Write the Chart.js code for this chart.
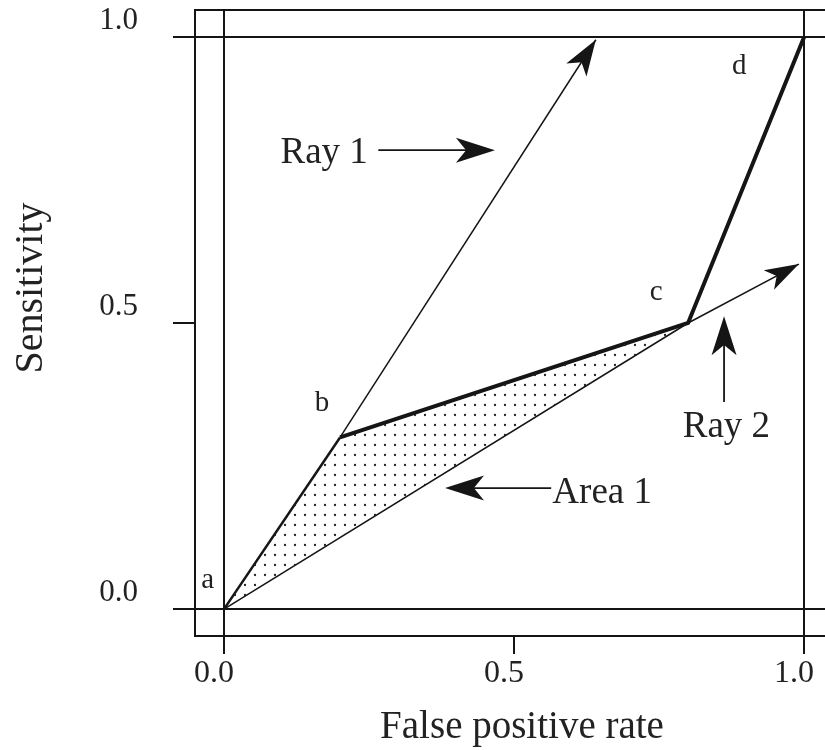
<!DOCTYPE html>
<html><head><meta charset="utf-8">
<script src="https://cdn.jsdelivr.net/npm/chart.js@4.4.0/dist/chart.umd.min.js"></script>
<style>html,body{margin:0;padding:0;background:#fff;overflow:hidden}</style>
</head><body>
<canvas id="c" width="825" height="750"></canvas>
<script>
// ---- data ----
const rocFpr = [0.0, 0.2, 0.8, 1.0];
const rocSens = [0.0, 0.3, 0.5, 1.0];
const pointNames = ['a', 'b', 'c', 'd'];
const ray1Tip = [0.641, 0.995];
const ray2Tip = [0.991, 0.603];
const xTickValues = [0, 0.5, 1];
const yTickValues = [0, 0.5, 1];
const tickLabels = ['0.0', '0.5', '1.0'];
const xTitle = 'False positive rate';
const yTitle = 'Sensitivity';
const calloutTexts = ['Ray 1', 'Area 1', 'Ray 2'];

// ---- placement of annotations (data coordinates) ----
const pointLabelPos = [[-0.028, 0.037], [0.169, 0.346], [0.745, 0.54], [0.888, 0.935]];
const calloutPos = [
  {tx: 0.248, ty: 0.78, align: 'right', from: [0.266, 0.802], to: [0.467, 0.802]},
  {tx: 0.566, ty: 0.185, align: 'left', from: [0.564, 0.2115], to: [0.381, 0.2115]},
  {tx: 0.866, ty: 0.30, align: 'center', from: [0.862, 0.362], to: [0.862, 0.512]}
];

const ink = '#151515';
const serif = "'Liberation Serif', 'Times New Roman', serif";
const canvas = document.getElementById('c');
const mainCtx = canvas.getContext('2d');

function dotPattern() {
  const c = document.createElement('canvas');
  c.width = 10; c.height = 10;
  const g = c.getContext('2d');
  g.fillStyle = '#222';
  g.beginPath(); g.arc(5, 5, 1.15, 0, Math.PI * 2); g.fill();
  return mainCtx.createPattern(c, 'repeat');
}

const pts = rocFpr.map((x, i) => ({x: x, y: rocSens[i]}));

function arrowHead(ctx, x1, y1, x2, y2, len, half) {
  const dx = x2 - x1, dy = y2 - y1, d = Math.hypot(dx, dy);
  const ux = dx / d, uy = dy / d, nx = -uy, ny = ux;
  const bx = x2 - ux * len, by = y2 - uy * len;
  const mx = x2 - ux * len * 0.74, my = y2 - uy * len * 0.74;
  ctx.beginPath();
  ctx.moveTo(x2, y2);
  ctx.lineTo(bx + nx * half, by + ny * half);
  ctx.lineTo(mx, my);
  ctx.lineTo(bx - nx * half, by - ny * half);
  ctx.closePath();
  ctx.fill();
}

const annotPlugin = {
  id: 'annot',
  afterDatasetsDraw(chart) {
    const ctx = chart.ctx;
    const xs = chart.scales.x, ys = chart.scales.y;
    const px = v => xs.getPixelForValue(v), py = v => ys.getPixelForValue(v);
    ctx.save();
    ctx.fillStyle = ink; ctx.strokeStyle = ink;
    // arrowheads at ray ends
    arrowHead(ctx, px(pts[1].x), py(pts[1].y), px(ray1Tip[0]), py(ray1Tip[1]), 36, 12);
    arrowHead(ctx, px(pts[2].x), py(pts[2].y), px(ray2Tip[0]), py(ray2Tip[1]), 34, 11);
    // callout arrows and texts
    ctx.lineWidth = 1.8;
    calloutPos.forEach((c, i) => {
      const x1 = px(c.from[0]), y1 = py(c.from[1]), x2 = px(c.to[0]), y2 = py(c.to[1]);
      const d = Math.hypot(x2 - x1, y2 - y1);
      const ex = x2 - (x2 - x1) / d * 25, ey = y2 - (y2 - y1) / d * 25;
      ctx.beginPath(); ctx.moveTo(x1, y1); ctx.lineTo(ex, ey); ctx.stroke();
      arrowHead(ctx, x1, y1, x2, y2, 39, 12.5);
      ctx.font = '37px ' + serif;
      ctx.textAlign = c.align; ctx.textBaseline = 'alphabetic';
      ctx.fillStyle = '#222';
      ctx.fillText(calloutTexts[i], px(c.tx), py(c.ty));
      ctx.fillStyle = ink;
    });
    // point labels
    ctx.font = '29px ' + serif;
    ctx.textAlign = 'center'; ctx.fillStyle = '#222';
    pointNames.forEach((n, i) => {
      ctx.fillText(n, px(pointLabelPos[i][0]), py(pointLabelPos[i][1]));
    });
    ctx.restore();
  },
  afterDraw(chart) {
    const ctx = chart.ctx;
    const area = chart.chartArea;
    ctx.save();
    ctx.fillStyle = '#222';
    // x axis title
    ctx.font = '39px ' + serif;
    ctx.textAlign = 'center'; ctx.textBaseline = 'alphabetic';
    ctx.fillText(xTitle, (area.left + area.right) / 2 + 12, chart.scales.x.bottom - 12);
    // y axis title
    ctx.font = '40px ' + serif;
    ctx.translate(chart.scales.y.left + 42, (area.top + area.bottom) / 2 - 35);
    ctx.rotate(-Math.PI / 2);
    ctx.fillText(yTitle, 0, 0);
    ctx.restore();
  }
};

const setTicks = vals => scale => { scale.ticks = vals.map(v => ({value: v})); };
const gridColor = c => (c.tick && c.tick.value === 0.5) ? 'rgba(0,0,0,0)' : ink;
const noPad = s => { s.paddingTop = 0; s.paddingBottom = 0; s.paddingLeft = 0; s.paddingRight = 0; };

new Chart(canvas, {
  type: 'scatter',
  data: {
    datasets: [
      {label: 'Area 1', data: [pts[0], pts[1], pts[2], pts[0]], showLine: true, fill: 'shape',
       backgroundColor: dotPattern(), borderColor: 'rgba(0,0,0,0)', borderWidth: 1, pointRadius: 0, xAxisID: 'x', yAxisID: 'y'},
      {label: 'Chord a-c', data: [pts[0], pts[2]], showLine: true, borderColor: ink, borderWidth: 1.5,
       pointRadius: 0, xAxisID: 'x', yAxisID: 'y'},
      {label: 'Ray 1', data: [pts[1], {x: ray1Tip[0], y: ray1Tip[1]}], showLine: true, borderColor: ink,
       borderWidth: 1.5, pointRadius: 0, xAxisID: 'x', yAxisID: 'y'},
      {label: 'Ray 2', data: [pts[2], {x: ray2Tip[0], y: ray2Tip[1]}], showLine: true, borderColor: ink,
       borderWidth: 1.5, pointRadius: 0, xAxisID: 'x', yAxisID: 'y'},
      {label: 'ROC', data: pts, showLine: true, borderColor: ink, borderWidth: 4, pointRadius: 0,
       segment: {borderWidth: c => c.p0DataIndex === 0 ? 2.5 : 4}, xAxisID: 'x', yAxisID: 'y'}
    ]
  },
  options: {
    responsive: false,
    animation: false,
    layout: {autoPadding: false, padding: {top: 10, left: 0, right: 0, bottom: 0}},
    plugins: {legend: {display: false}, tooltip: {enabled: false}},
    scales: {
      x: {
        type: 'linear', position: 'bottom', min: -0.05, max: 1.036,
        afterBuildTicks: setTicks(xTickValues),
        afterFit: s => { s.height = 114; noPad(s); },
        grid: {color: gridColor, tickColor: ink, lineWidth: 2, drawTicks: true, tickLength: 18},
        border: {display: true, color: ink, width: 2},
        ticks: {callback: (v, i) => tickLabels[i], font: {family: serif, size: 32}, color: '#222',
                padding: 0, labelOffset: -10, maxRotation: 0, autoSkip: false}
      },
      xTop: {
        type: 'linear', axis: 'x', position: 'top', min: -0.05, max: 1.036,
        afterFit: s => { s.height = 0; noPad(s); },
        grid: {display: false, drawTicks: false},
        border: {display: true, color: ink, width: 2},
        ticks: {display: false}
      },
      y: {
        type: 'linear', position: 'left', min: -0.047, max: 1.047,
        afterBuildTicks: setTicks(yTickValues),
        afterFit: s => { s.width = 195; noPad(s); },
        grid: {color: gridColor, tickColor: ink, lineWidth: 2, drawTicks: true, tickLength: 22},
        border: {display: true, color: ink, width: 2},
        ticks: {callback: (v, i) => tickLabels[i], font: {family: serif, size: 31}, color: '#222',
                padding: 35, labelOffset: -16, autoSkip: false}
      }
    }
  },
  plugins: [annotPlugin]
});
</script>
</body></html>
